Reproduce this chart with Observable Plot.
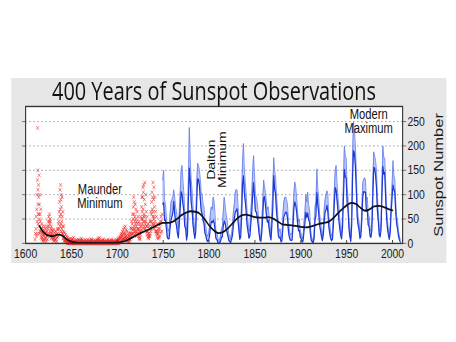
<!DOCTYPE html>
<html>
<head>
<meta charset="utf-8">
<script src="https://cdn.jsdelivr.net/npm/d3@7"></script>
<script src="https://cdn.jsdelivr.net/npm/@observablehq/plot@0.6"></script>
<style>
  html, body { margin: 0; padding: 0; background: #ffffff; width: 456px; height: 342px; overflow: hidden; }
  #wrap { position: absolute; left: 0; top: 0; width: 570px; height: 342px; transform: scaleX(0.8); transform-origin: 0 0; }
  #panel { position: absolute; left: 13.75px; top: 78px; width: 543.75px; height: 185px; background: #e6e6e6; }
  #title { position: absolute; top: 0px; font-family: "Open Sans", "DejaVu Sans", sans-serif; font-size: 25px; line-height: 25px; color: #111; white-space: nowrap; transform-origin: 0 0; }
  #chart { position: absolute; left: 0; top: 0; }
</style>
</head>
<body>
<div id="wrap"><div id="panel"><div id="chart"></div><span id="title">400 Years of Sunspot Observations</span></div></div>
<script>
// ---------- DATA ----------
const titleText = "400 Years of Sunspot Observations";
const yLabel = "Sunspot Number";
const xTicks = [1600, 1650, 1700, 1750, 1800, 1850, 1900, 1950, 2000];
const yTicks = [0, 50, 100, 150, 200, 250];
const gridValues = [50, 100, 150, 200, 250];

// Yearly mean sunspot number, 1749–2008 (dark blue)
const blueStart = 1749;
const yearlyMean = [
  80.9, 83.4, 47.7, 47.8, 30.7, 12.2, 9.6, 10.2, 32.4, 47.6,
  54.0, 62.9, 85.9, 61.2, 45.1, 36.4, 20.9, 11.4, 37.8, 69.8,
  106.1, 100.8, 81.6, 66.5, 34.8, 30.6, 7.0, 19.8, 92.5, 154.4,
  125.9, 84.8, 68.1, 38.5, 22.8, 10.2, 24.1, 82.9, 132.0, 130.9,
  118.1, 89.9, 66.6, 60.0, 46.9, 41.0, 21.3, 16.0, 6.4, 4.1,
  6.8, 14.5, 34.0, 45.0, 43.1, 47.5, 42.2, 28.1, 10.1, 8.1,
  2.5, 0.0, 1.4, 5.0, 12.2, 13.9, 35.4, 45.8, 41.1, 30.1,
  23.9, 15.6, 6.6, 4.0, 1.8, 8.5, 16.6, 36.3, 49.6, 64.2,
  67.0, 70.9, 47.8, 27.5, 8.5, 13.2, 56.9, 121.5, 138.3, 103.2,
  85.7, 64.6, 36.7, 24.2, 10.7, 15.0, 40.1, 61.5, 98.5, 124.7,
  96.3, 66.6, 64.5, 54.1, 39.0, 20.6, 6.7, 4.3, 22.7, 54.8,
  93.8, 95.8, 77.2, 59.1, 44.0, 47.0, 30.5, 16.3, 7.3, 37.6,
  74.0, 139.0, 111.2, 101.6, 66.2, 44.7, 17.0, 11.3, 12.4, 3.4,
  6.0, 32.3, 54.3, 59.7, 63.7, 63.5, 52.2, 25.4, 13.1, 6.8,
  6.3, 7.1, 35.6, 73.0, 85.1, 78.0, 64.0, 41.8, 26.2, 26.7,
  12.1, 9.5, 2.7, 5.0, 24.4, 42.0, 63.5, 53.8, 62.0, 48.5,
  43.9, 18.6, 5.7, 3.6, 1.4, 9.6, 47.4, 57.1, 103.9, 80.6,
  63.6, 37.6, 26.1, 14.2, 5.8, 16.7, 44.3, 63.9, 69.0, 77.8,
  64.9, 35.7, 21.2, 11.1, 5.7, 8.7, 36.1, 79.7, 114.4, 109.6,
  88.8, 67.8, 47.5, 30.6, 16.3, 9.6, 33.2, 92.6, 151.6, 136.3,
  134.7, 83.9, 69.4, 31.5, 13.9, 4.4, 38.0, 141.7, 190.2, 184.8,
  159.0, 112.3, 53.9, 37.6, 27.9, 10.2, 15.1, 47.0, 93.8, 105.9,
  105.5, 104.5, 66.6, 68.9, 38.0, 34.5, 15.5, 12.6, 27.5, 92.5,
  155.4, 154.6, 140.4, 115.9, 66.6, 45.9, 17.9, 13.4, 29.4, 100.2,
  157.6, 142.6, 145.7, 94.3, 54.6, 29.9, 17.5, 8.6, 21.5, 64.3,
  93.3, 119.6, 111.0, 104.0, 63.7, 40.4, 29.8, 15.2, 7.5, 2.9
];
// Highest monthly value within each year, 1749–2008 (light blue, estimated)
const monthlyMax = [
  130, 150, 90, 80, 55, 35, 25, 30, 60, 85,
  90, 95, 110, 95, 75, 65, 45, 30, 65, 105,
  150, 160, 130, 105, 65, 60, 25, 45, 140, 238,
  175, 130, 110, 75, 45, 25, 50, 125, 165, 160,
  150, 130, 105, 100, 80, 75, 45, 35, 20, 15,
  20, 35, 65, 75, 70, 95, 85, 60, 25, 25,
  12, 5, 8, 15, 30, 35, 65, 95, 80, 60,
  50, 35, 20, 15, 8, 20, 35, 65, 80, 105,
  110, 110, 80, 50, 20, 30, 95, 170, 205, 150,
  125, 100, 65, 45, 25, 30, 65, 95, 150, 180,
  145, 100, 95, 85, 65, 40, 18, 12, 45, 85,
  130, 116, 105, 85, 70, 75, 55, 35, 20, 65,
  115, 176, 150, 135, 100, 75, 35, 25, 30, 12,
  18, 60, 85, 95, 95, 90, 80, 45, 30, 18,
  20, 20, 60, 105, 126, 115, 95, 65, 45, 50,
  25, 20, 10, 15, 45, 65, 100, 85, 105, 80,
  70, 35, 15, 10, 5, 20, 75, 85, 153, 115,
  95, 60, 45, 30, 15, 30, 70, 90, 100, 108,
  100, 55, 40, 25, 15, 20, 60, 110, 150, 160,
  125, 95, 75, 50, 30, 20, 55, 130, 200, 180,
  175, 115, 95, 50, 30, 12, 60, 190, 249, 230,
  200, 150, 80, 55, 45, 20, 25, 70, 125, 130,
  135, 130, 90, 95, 60, 55, 30, 25, 45, 125,
  188, 180, 170, 150, 95, 70, 30, 25, 45, 130,
  200, 175, 175, 125, 75, 45, 30, 15, 35, 85,
  120, 170, 140, 130, 85, 55, 45, 25, 15, 8
];

// Early telescopic observations (red), values per year from 1610
const redStart = 1610;
const redByYear = [
  [8, 20], [30, 55, 15], [70, 100, 45, 20, 130], [237, 150, 110, 80, 40, 60], [120, 95, 60, 35, 140, 20],
  [80, 50, 100, 25, 60], [45, 25, 70, 12], [30, 18, 40, 8], [22, 12, 35, 5], [18, 28, 8],
  [15, 25, 5, 35], [20, 10, 30], [12, 22, 5], [25, 15, 35, 8], [30, 45, 18],
  [55, 35, 20, 45], [60, 40, 25, 50, 15], [45, 30, 20, 10], [35, 20, 12, 28], [25, 15, 8],
  [18, 10, 28, 5], [12, 22, 6], [15, 8, 25], [10, 18, 4], [20, 12, 30],
  [28, 15, 40], [45, 30, 65, 20], [85, 55, 110, 35, 70], [120, 90, 60, 40, 100, 25], [75, 45, 30, 95, 20],
  [55, 35, 20, 65, 10], [25, 12, 35, 5], [15, 6, 22], [10, 3, 18, 6], [8, 2, 14],
  [6, 0, 12], [4, 0, 8], [3, 8, 0], [5, 0, 10], [2, 6, 0],
  [4, 0, 9], [8, 2, 0], [12, 4, 0], [6, 0, 3], [2, 0, 5],
  [3, 0, 7], [5, 0, 2], [4, 8, 0], [2, 0, 6], [3, 0, 5],
  [6, 0, 10, 2], [4, 0, 8], [2, 0, 5], [5, 0, 3], [3, 0, 7],
  [2, 0, 4], [6, 0, 3], [3, 0, 8], [4, 0, 2], [2, 0, 5],
  [3, 0, 6], [5, 0, 9, 2], [7, 0, 3], [4, 0, 6], [2, 0, 4],
  [3, 0, 6], [5, 0, 2], [3, 0, 7], [4, 0, 10], [6, 0, 3],
  [8, 0, 12, 4], [5, 0, 3], [3, 0, 6], [2, 0, 4], [6, 0, 9],
  [3, 0, 5], [4, 0, 2], [2, 0, 6], [5, 0, 3], [3, 0, 8],
  [2, 0, 4], [4, 0, 6], [3, 0, 2], [5, 0, 8], [2, 0, 4],
  [3, 0, 6], [4, 0, 2], [2, 0, 5], [4, 0, 7], [3, 0, 6],
  [5, 0, 9, 2], [6, 0, 11], [8, 2, 14], [10, 3, 18], [12, 4, 20, 7],
  [15, 5, 24, 9], [18, 6, 28, 10], [20, 8, 32, 12], [22, 10, 35, 14], [18, 6, 28, 10],
  [15, 5, 25, 8], [12, 4, 20], [10, 2, 16], [14, 5, 22], [20, 8, 32, 12],
  [30, 15, 45, 20], [40, 20, 60, 28], [50, 30, 75, 20, 95], [60, 35, 85, 25, 45], [55, 30, 80, 20, 40],
  [50, 25, 70, 35, 15], [45, 22, 65, 30], [40, 20, 55, 28], [30, 15, 45, 10], [25, 12, 40, 8],
  [35, 18, 55, 25], [50, 28, 75, 35, 95], [65, 40, 95, 50, 115], [70, 45, 105, 55, 120, 30], [60, 35, 90, 45, 125],
  [55, 30, 80, 40, 100], [45, 25, 65, 35], [35, 18, 55, 25], [25, 12, 40, 15], [20, 10, 35, 15],
  [30, 15, 45, 20], [45, 25, 65, 30], [60, 35, 85, 45, 105], [70, 40, 95, 55, 125], [65, 38, 90, 50, 115],
  [55, 30, 75, 40, 95], [45, 25, 65, 35], [35, 20, 55, 25], [25, 12, 40, 18], [20, 10, 30],
  [25, 12, 38], [30, 15, 45], [40, 22, 55], [45, 25, 60]
];

// Smoothed long-term trend (black)
const smoothYears = [1615, 1620, 1625, 1630, 1635, 1640, 1645, 1650, 1655, 1660, 1670, 1680, 1690, 1700, 1705, 1710, 1715, 1720, 1725, 1730, 1735, 1740, 1745, 1750, 1755, 1760, 1765, 1770, 1775, 1780, 1785, 1790, 1795, 1800, 1805, 1810, 1815, 1820, 1825, 1830, 1835, 1840, 1845, 1850, 1855, 1860, 1865, 1870, 1875, 1880, 1885, 1890, 1895, 1900, 1905, 1910, 1915, 1920, 1925, 1930, 1935, 1940, 1945, 1950, 1955, 1960, 1965, 1970, 1975, 1980, 1985, 1990, 1995, 2000];
const smoothValues = [36, 22, 16, 15, 18, 16, 8, 3.5, 1.5, 1, 1, 1, 1, 1.5, 3, 6, 11, 16, 21, 25, 29, 34, 39, 42, 42, 44, 50, 58, 63, 66, 65, 61, 50, 37, 27, 21, 23, 30, 40, 50, 57, 59, 57, 54, 53, 53, 54, 51, 45, 39, 38, 37, 36, 34, 33, 34, 37, 40, 42, 44, 51, 61, 70, 78, 83, 81, 73, 67, 70, 76, 77, 75, 71, 68];

// Annotations
const notes = [
  {year: 1681, value: 97, text: "Maunder\nMinimum", rotate: 0},
  {year: 1809, value: 172, text: "Dalton\nMinimum", rotate: -90},
  {year: 1974, value: 250, text: "Modern\nMaximum", rotate: 0}
];

// ---------- BUILD ----------
const blueData = yearlyMean.map((m, i) => ({year: blueStart + i + 0.5, mean: m, max: monthlyMax[i]}));
const redData = redByYear.flatMap((vals, i) => vals.map((v, j) => ({year: redStart + i + (j + 0.5) / vals.length, value: v})));
const smoothData = smoothYears.map((y, i) => ({year: y, value: smoothValues[i]}));

const font = "'Liberation Sans', Arial, Helvetica, sans-serif";

const chart = Plot.plot({
  width: 544,
  height: 185,
  marginLeft: 17.5,
  marginRight: 55,
  marginTop: 28,
  marginBottom: 20,
  style: {background: "transparent", fontFamily: font, color: "#1a1a1a", overflow: "visible"},
  x: {domain: [1600, 2011], nice: false},
  y: {domain: [0, 281], nice: false},
  marks: [
    Plot.frame({fill: "white", stroke: "none"}),
    Plot.ruleY(gridValues, {y: d => d, stroke: "#999", strokeWidth: 1, strokeDasharray: "2,3"}),
    Plot.dot(redData, {x: "year", y: "value", symbol: "times", r: 1.8, stroke: "#ee1c1c", strokeOpacity: 0.6, strokeWidth: 1}),
    Plot.areaY(blueData, {x: "year", y1: "mean", y2: "max", fill: "#7d92f0", fillOpacity: 0.55}),
    Plot.line(blueData, {x: "year", y: "max", stroke: "#5f7bec", strokeWidth: 0.9}),
    Plot.line(blueData, {x: "year", y: "mean", stroke: "#1a38d6", strokeWidth: 1.5}),
    Plot.line(smoothData, {x: "year", y: "value", curve: "monotone-x", stroke: "#111", strokeWidth: 1.8}),
    Plot.text(notes, {x: "year", y: "value", text: "text", rotate: "rotate", fontSize: 14, lineHeight: 1.0, fill: "#111", fontFamily: font}),
    Plot.frame({stroke: "#333", strokeWidth: 1.4}),
    Plot.ruleX(xTicks.slice(1), {x: d => d, y1: 0, y2: 6, stroke: "#333", strokeWidth: 1}),
    Plot.axisX({ticks: xTicks, tickSize: 0, tickPadding: 5, tickFormat: d => String(d), fontSize: 13, label: null}),
    Plot.axisY({anchor: "left", ticks: yTicks, tickSize: 4, tickFormat: () => "", label: null, stroke: "#666"}),
    Plot.axisY({anchor: "right", ticks: yTicks, tickSize: 4, tickPadding: 2, fontSize: 13, label: yLabel, labelAnchor: "center", labelArrow: "none", labelOffset: 50, stroke: "#666"})
  ]
});
document.getElementById("chart").appendChild(chart);
chart.querySelectorAll('[aria-label="y-axis label"], [aria-label="y-axis label"] text').forEach(t => { t.style.fontSize = "16.5px"; });

// Title: centered over the plot frame, fitted to the reference width
const title = document.getElementById("title");
title.textContent = titleText;
const w = title.getBoundingClientRect().width / 0.8;
const targetW = 405;
const s = targetW / w;
const centerX = (17.5 + (544 - 55)) / 2;
title.style.left = (centerX - targetW / 2) + "px";
title.style.transform = `scaleX(${s})`;
</script>
</body>
</html>
